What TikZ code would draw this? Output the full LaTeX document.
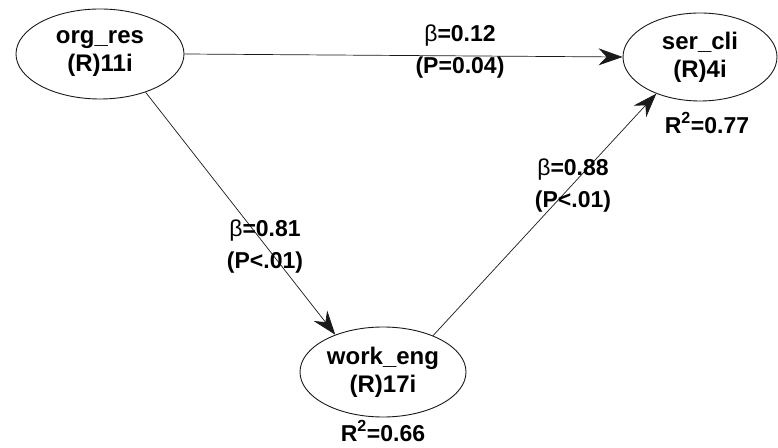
\documentclass[tikz,border=0pt]{standalone}
\usepackage{fontspec}
\setmainfont{Liberation Sans}
\usetikzlibrary{arrows.meta,shapes.geometric}
\definecolor{LineClr}{rgb}{0.1,0.1,0.1}

\begin{document}
\begin{tikzpicture}[x=1pt,y=1pt,
  latent/.style={ellipse,draw=LineClr,line width=0.9pt,inner sep=0pt,
    minimum width=168pt,minimum height=90pt,align=center,
    font=\fontsize{24}{28}\selectfont\bfseries},
  path/.style={draw=LineClr,line width=0.7pt,
    -{Stealth[length=24pt,width=17pt,inset=8pt]}},
  coef/.style={align=center,font=\fontsize{23}{32}\selectfont\bfseries},
  rsq/.style={inner sep=1pt,font=\fontsize{23}{28}\selectfont\bfseries}]
\useasboundingbox (0,0) rectangle (778,447);

\node[latent] (org) at (100,393) {org\_res\\(R)11i};
\node[latent,minimum width=154pt,minimum height=88pt] (ser) at (700,390) {ser\_cli\\(R)4i};
\node[latent,minimum width=166pt] (work) at (383,75) {work\_eng\\(R)17i};

\draw[path] (org.east) -- (ser.west);
\draw[path] (org.-40) -- (work.142);
\draw[path] (work.36) -- (ser.220);

\node[coef] (b12) at (460,395) {{\mdseries β}=0.12\\(P=0.04)};
\node[coef] (b81) at (265,200) {{\mdseries β}=0.81\\(P<.01)};
\node[coef] (b88) at (573,261) {{\mdseries β}=0.88\\(P<.01)};

\node[rsq] (r2ser) at (707,324) {R\textsuperscript{2}=0.77};
\node[rsq] (r2work) at (383,16) {R\textsuperscript{2}=0.66};

\end{tikzpicture}
\end{document}
